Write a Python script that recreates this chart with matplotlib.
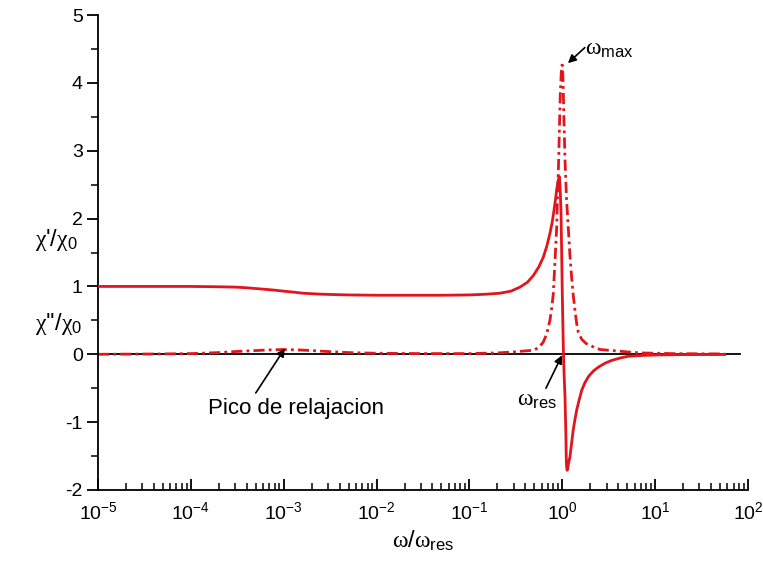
import matplotlib
matplotlib.use("Agg")
import matplotlib.pyplot as plt
from matplotlib.ticker import LogLocator, MultipleLocator

plt.rcParams['font.family'] = ['Liberation Sans', 'DejaVu Sans']
plt.rcParams['mathtext.fontset'] = 'custom'
plt.rcParams['mathtext.rm'] = 'Liberation Sans'
plt.rcParams['mathtext.it'] = 'Liberation Serif'
plt.rcParams['mathtext.bf'] = 'Liberation Sans:bold'
plt.rcParams['axes.unicode_minus'] = False

# chi'/chi0 (solid)
w_real = [1e-5, 1e-4, 2e-4, 3e-4, 4e-4, 6e-4, 8e-4, 1e-3, 1.3e-3, 1.6e-3, 2e-3, 2.5e-3,
          3.5e-3, 5e-3, 1e-2, 3e-2, 5e-2, 0.1, 0.15, 0.213, 0.28, 0.35, 0.42, 0.488,
          0.56, 0.624, 0.68, 0.736, 0.78, 0.814, 0.845, 0.869, 0.895, 0.914, 0.929,
          0.945, 0.968, 0.985, 1.0, 1.015, 1.03, 1.05, 1.07, 1.09, 1.107, 1.12, 1.13,
          1.15, 1.17, 1.21, 1.26, 1.31, 1.37, 1.43, 1.52, 1.62, 1.75, 1.91, 2.15,
          2.44, 2.9, 3.41, 4.2, 5.1, 7.0, 10.5, 20.0, 56.0]
chi_real = [1.00, 1.00, 0.995, 0.99, 0.98, 0.96, 0.945, 0.93, 0.915, 0.90, 0.893, 0.886,
            0.88, 0.875, 0.87, 0.87, 0.87, 0.875, 0.885, 0.90, 0.93, 0.99, 1.06, 1.16,
            1.29, 1.43, 1.59, 1.78, 1.95, 2.12, 2.28, 2.42, 2.53, 2.59, 2.62,
            2.5, 2.12, 1.5, 0.90, 0.42, 0.0, -0.35, -0.63, -1.1, -1.61, -1.69, -1.71,
            -1.67, -1.6, -1.51, -1.31, -1.12, -0.96, -0.82, -0.67, -0.53, -0.42, -0.33, -0.25,
            -0.19, -0.13, -0.09, -0.055, -0.03, -0.018, -0.01, -0.005, -0.003]

# chi''/chi0 (dash-dot)
w_imag = [1e-5, 5e-5, 1e-4, 2e-4, 3e-4, 5e-4, 7e-4, 1e-3, 1.4e-3, 2e-3, 3e-3, 5e-3,
          1e-2, 3e-2, 0.1, 0.2, 0.3, 0.4, 0.49, 0.56, 0.624, 0.68, 0.736, 0.77, 0.80,
          0.835, 0.87, 0.89, 0.914, 0.93, 0.95, 0.975, 0.99, 1.005, 1.02, 1.04, 1.07,
          1.11, 1.16, 1.21, 1.26, 1.31, 1.37, 1.43, 1.49, 1.62, 1.8, 2.0, 2.3, 2.57,
          3.1, 3.85, 5.0, 7.0, 15.0, 56.0]
chi_imag = [0.0, 0.005, 0.01, 0.025, 0.04, 0.055, 0.065, 0.07, 0.065, 0.055, 0.04, 0.025,
            0.015, 0.01, 0.01, 0.02, 0.035, 0.05, 0.06, 0.10, 0.18, 0.30, 0.50, 0.68, 0.89,
            1.38, 1.87, 2.37, 2.86, 3.3, 3.8, 4.15, 4.26, 4.26, 4.0, 3.5, 2.86,
            2.3, 1.87, 1.45, 1.14, 0.88, 0.65, 0.45, 0.32, 0.22, 0.16, 0.13, 0.09, 0.07,
            0.06, 0.05, 0.035, 0.02, 0.01, 0.005]

zero_line_x = [1e-5, 82.0]
zero_line_y = [0.0, 0.0]

xtick_vals = [1e-5, 1e-4, 1e-3, 1e-2, 1e-1, 1e0, 1e1, 1e2]
ytick_vals = [-2, -1, 0, 1, 2, 3, 4, 5]

red = '#e3151c'

fig = plt.figure(figsize=(7.63, 5.75), dpi=100)
ax = fig.add_axes([98/763, 85/575, 650/763, 475/575])

ax.plot(zero_line_x, zero_line_y, color='black', lw=1.3, zorder=1)
ax.plot(w_real, chi_real, color=red, lw=2.0, zorder=3)
ax.plot(w_imag, chi_imag, color=red, lw=2.0, dashes=[4, 1.5, 1, 1.5], zorder=2)

ax.set_xscale('log')
ax.set_xlim(1e-5, 1e2)
ax.set_ylim(-2, 5)
ax.set_xticks(xtick_vals)
ax.xaxis.set_minor_locator(LogLocator(base=10, subs=range(2, 10), numticks=20))
ax.set_yticks(ytick_vals)
ax.yaxis.set_minor_locator(MultipleLocator(0.5))

for s in ['top', 'right']:
    ax.spines[s].set_visible(False)
for s in ['left', 'bottom']:
    ax.spines[s].set_linewidth(1.3)

ax.tick_params(axis='x', which='major', direction='in', length=8, width=1.3, labelsize=14, pad=8)
ax.tick_params(axis='x', which='minor', direction='in', length=5, width=1.1)
ax.tick_params(axis='y', which='major', direction='out', length=8, width=1.3, labelsize=14, pad=3)
ax.tick_params(axis='y', which='minor', direction='out', length=5, width=1.1)

ax.set_xlabel(r"$\omega/\omega_{\mathrm{res}}$", fontsize=17, labelpad=4)

fig.text(35/763, 1 - 240/575, r"$\chi$'/$\chi_0$", fontsize=17, ha='left', va='center')
fig.text(35/763, 1 - 324/575, r"$\chi$''/$\chi_0$", fontsize=17, ha='left', va='center')

arrow_kw = dict(arrowstyle='-|>', color='black', lw=1.2, mutation_scale=12, shrinkA=0, shrinkB=0)

# Pico de relajacion
ax.annotate("", xy=(1.03e-3, 0.088), xytext=(5.0e-4, -0.57), arrowprops=arrow_kw)
ax.text(1.35e-3, -0.80, "Pico de relajacion", fontsize=16, ha='center', va='center')

# omega_res
ax.annotate("", xy=(0.993, -0.015), xytext=(0.667, -0.50), arrowprops=arrow_kw)
ax.text(0.53, -0.68, r"$\omega_{\mathrm{res}}$", fontsize=17, ha='center', va='center')

# omega_max
ax.annotate("", xy=(1.15, 4.29), xytext=(1.75, 4.52), arrowprops=arrow_kw, annotation_clip=False)
ax.text(3.2, 4.50, r"$\omega_{\mathrm{max}}$", fontsize=17, ha='center', va='center', clip_on=False)

fig.savefig('out.png', dpi=100)
